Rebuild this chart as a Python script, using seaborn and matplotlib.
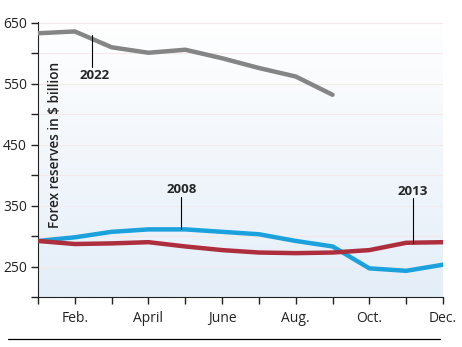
import numpy as np
import pandas as pd
import matplotlib
matplotlib.use("Agg")
import matplotlib.pyplot as plt
import seaborn as sns
from matplotlib.colors import LinearSegmentedColormap

months = ["Jan", "Feb", "Mar", "Apr", "May", "Jun", "Jul", "Aug", "Sep", "Oct", "Nov", "Dec"]
y2022 = [633, 636, 610, 601, 606, 592, 576, 562, 532]
y2008 = [292, 298, 307, 311, 311, 307, 303, 292, 283, 247, 243, 253]
y2013 = [292, 287, 288, 290, 283, 277, 273, 272, 273, 277, 289, 290]
xtick_labels = ["Feb.", "April", "June", "Aug.", "Oct.", "Dec."]
xtick_months = ["Feb", "Apr", "Jun", "Aug", "Oct", "Dec"]
ytick_labels = ["250", "350", "450", "550", "650"]

rows = []
for year, vals in [("2022", y2022), ("2008", y2008), ("2013", y2013)]:
    for i, v in enumerate(vals):
        rows.append({"month": i, "value": v, "year": year})
df = pd.DataFrame(rows)

sns.set_style("white")
plt.rcParams["font.family"] = ["Open Sans", "DejaVu Sans"]

fig = plt.figure(figsize=(4.62, 3.47), dpi=100)
ax = fig.add_axes([38/462, 1-297/347, (443-38)/462, (297-21.7)/347])

ymin, ymax = 200, 652
grad = np.linspace(0, 1, 256).reshape(-1, 1)
cmap = LinearSegmentedColormap.from_list("bg", ["#ffffff", "#e4eef8"])
ax.imshow(grad, aspect="auto", cmap=cmap, extent=[0, 11, ymin, ymax], origin="upper", zorder=0)

for yv in range(200, 651, 50):
    ax.axhline(yv, color="#f4e8e8", lw=0.8, zorder=1)

palette = {"2022": "#858585", "2008": "#1ba1dc", "2013": "#ad2f3e"}
sns.lineplot(data=df, x="month", y="value", hue="year", palette=palette,
             hue_order=["2022", "2008", "2013"], lw=3.2, ax=ax, legend=False, zorder=3)

ax.set_xlim(0, 11)
ax.set_ylim(ymin, ymax)
ax.set_xticks(range(len(months)), minor=True)
label_pos = [months.index(m) for m in xtick_months]
ax.set_xticks(label_pos)
ax.set_xticklabels(xtick_labels)
ax.set_yticks(range(200, 651, 50))
ylabs = [str(v) if str(v) in ytick_labels else "" for v in range(200, 651, 50)]
ax.set_yticklabels(ylabs)
ax.tick_params(axis="both", which="both", direction="out", length=5, width=1, color="#222222",
               labelsize=10, labelcolor="#222222", pad=3, bottom=True, left=True)
ax.tick_params(axis="x", which="major", pad=13)
for lab in ax.get_xticklabels():
    lab.set_va("baseline")
ax.set_xlabel("")
ax.set_ylabel("")
for s in ["top", "right"]:
    ax.spines[s].set_visible(False)
ax.spines["left"].set_color("#222222")
ax.spines["bottom"].set_color("#222222")

ax.text(0.043, 0.855, "Forex reserves in $ billion", transform=ax.transAxes, rotation=90,
        ha="center", va="top", fontsize=9.8, fontweight="semibold", color="#222222", zorder=5)

# annotations
ax.plot([1.47, 1.47], [630, 578], color="black", lw=0.8, zorder=4)
ax.text(1.55, 574, "2022", ha="center", va="top", fontsize=9.5, fontweight="bold", zorder=5)
ax.plot([3.89, 3.89], [311, 364], color="black", lw=0.8, zorder=4)
ax.text(3.89, 371, "2008", ha="center", va="baseline", fontsize=9.5, fontweight="bold", zorder=5)
ax.plot([10.19, 10.19], [289, 362], color="black", lw=0.8, zorder=4)
ax.text(10.19, 368, "2013", ha="center", va="baseline", fontsize=9.5, fontweight="bold", zorder=5)

fig.add_artist(plt.Line2D([8/462, 440/462], [1-338.5/347, 1-338.5/347], color="black", lw=0.9))

fig.savefig("out.png", dpi=100)
